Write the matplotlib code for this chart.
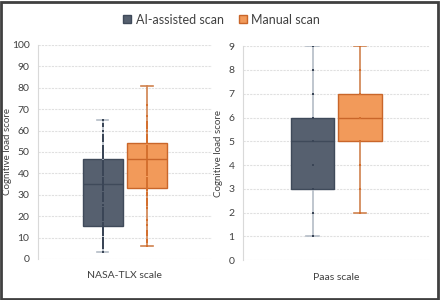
import matplotlib.pyplot as plt
from matplotlib.lines import Line2D

plt.rcParams['font.family'] = ['Lato', 'DejaVu Sans']

groups = ["AI-assisted scan", "Manual scan"]
colors = ["#56606f", "#f29a5a"]
edges = ["#3f4a5a", "#c9662a"]
whisk = ["#b4bcc6", "#d0824e"]
dots = ["#3a4556", "#d4702f"]

# box statistics [whislo, q1, med, q3, whishi]
nasa_stats = [[3, 15.5, 35, 46.5, 65], [6, 33, 46.5, 54, 81]]
paas_stats = [[1, 3, 5, 6, 9], [2, 5, 6, 7, 9]]

nasa_ai = [3, 5, 6, 7, 8, 9, 10, 11, 12, 13, 14, 15, 16, 17, 18, 19, 20, 21, 22, 23,
           24, 25, 27, 28, 29, 30, 31, 32, 33, 34, 35, 36, 37, 38, 39, 40, 41, 42, 43,
           44, 45, 46, 47, 48, 49, 50, 51, 52, 53, 55, 56, 57, 58, 60, 62, 63, 65]
nasa_manual = [6, 8, 9, 11, 12, 13, 16, 18, 24, 25, 26, 27, 28, 30, 31, 32, 33, 34, 35,
               36, 37, 38, 39, 40, 41, 42, 43, 44, 45, 46, 47, 48, 49, 50, 51, 52, 53,
               54, 55, 56, 57, 58, 60, 61, 62, 63, 64, 67, 72]
paas_ai = [1, 2, 3, 4, 5, 6, 7, 8, 9]
paas_manual = [2, 3, 4, 5, 6, 7, 8, 9]


def draw(ax, stats, points, ylim, yticks, xlabel, width, labx):
    for i, s in enumerate(stats):
        d = dict(whislo=s[0], q1=s[1], med=s[2], q3=s[3], whishi=s[4], fliers=[])
        ax.bxp([d], positions=[i + 1], widths=width, patch_artist=True, showfliers=False,
               boxprops=dict(facecolor=colors[i], edgecolor=edges[i], linewidth=1),
               medianprops=dict(color=edges[i], linewidth=1),
               whiskerprops=dict(color=whisk[i], linewidth=1.2),
               capprops=dict(color=whisk[i], linewidth=1.2), capwidths=0.26)
        ax.plot([i + 1] * len(points[i]), points[i], 's', ms=1.6, mew=0,
                color=dots[i], zorder=3)
    ax.set_xlim(-0.47, 3.47)
    ax.set_ylim(ylim)
    ax.set_yticks(yticks)
    ax.set_xticks([])
    ax.grid(axis='y', color='#e0e0e0', linewidth=0.8, linestyle=(0, (2, 1)))
    ax.set_axisbelow(True)
    for sp in ['top', 'right', 'bottom']:
        ax.spines[sp].set_visible(False)
    ax.spines['left'].set_color('#d9d9d9')
    ax.tick_params(axis='y', length=0, labelsize=7.5, colors='#404040', pad=6)
    ax.set_ylabel("Cognitive load score", fontsize=7, color='#404040')
    ax.yaxis.set_label_coords(labx, 0.5)
    ax.set_xlabel(xlabel, fontsize=7.5, color='#404040', labelpad=9)


fig = plt.figure(figsize=(4.4, 3.0), dpi=100)
ax1 = fig.add_axes([0.086, 0.137, 0.395, 0.713])
ax2 = fig.add_axes([0.552, 0.133, 0.425, 0.713])

draw(ax1, nasa_stats, [nasa_ai, nasa_manual], (0, 100), range(0, 101, 10),
     "NASA-TLX scale", 0.91, -0.15)
draw(ax2, paas_stats, [paas_ai, paas_manual], (0, 9), range(0, 10),
     "Paas scale", 0.92, -0.105)

handles = [Line2D([], [], marker='s', ls='', ms=6, markerfacecolor=colors[i],
                  markeredgecolor=edges[i]) for i in range(2)]
fig.legend(handles, groups, loc='center', bbox_to_anchor=(0.5, 0.935), ncol=2,
           frameon=False, fontsize=9, handletextpad=0.1, columnspacing=0.9,
           handlelength=1.2, labelcolor='#404040')

fig.patches.append(plt.Rectangle((0.003, 0.004), 0.992, 0.99, transform=fig.transFigure,
                                 fill=False, edgecolor='#404040', linewidth=2))

fig.savefig("out.png", dpi=100)
